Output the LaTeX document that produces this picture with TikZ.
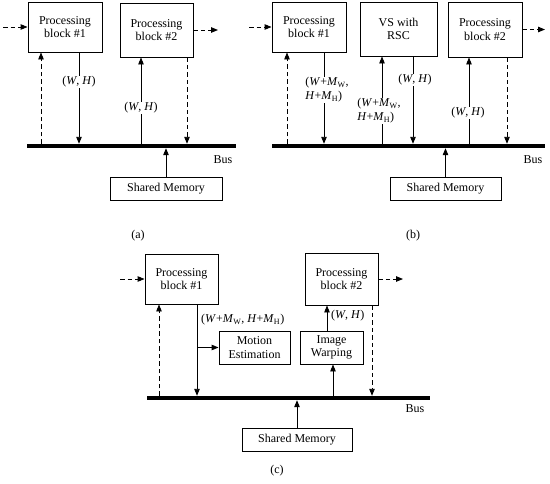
\documentclass[tikz,border=0pt]{standalone}
\usepackage{fontspec}
\setmainfont{Liberation Serif}
\usetikzlibrary{arrows.meta,calc}
\begin{document}
\begin{tikzpicture}[x=1pt,y=-1pt,
  box/.style={draw,line width=0.9pt,inner sep=1pt,align=center,font=\fontsize{12}{13.5}\selectfont},
  busbar/.style={fill=black,inner sep=0pt,minimum height=4pt},
  arr/.style={line width=0.9pt,-{Triangle[length=7pt,width=5.5pt]}},
  darr/.style={arr,dash pattern=on 4.5pt off 3pt},
  lbl/.style={fill=white,inner sep=1pt,font=\fontsize{12}{14}\selectfont},
  txt/.style={inner sep=0pt,font=\fontsize{12}{14}\selectfont}]
\useasboundingbox (0,0) rectangle (550,483);
\newcommand{\WH}{(\textit{W}, \textit{H})}
% ---------------- (a)
\node[box,minimum width=74pt,minimum height=50pt] (pa1) at (65,27) {Processing\\block \#1};
\node[box,minimum width=73pt,minimum height=54pt] (pa2) at (156.5,30) {Processing\\block \#2};
\node[box,minimum width=112pt,minimum height=23pt] (sma) at (166,188.5) {Shared Memory};
\node[busbar,minimum width=209pt] (busa) at (131.5,146) {};
\coordinate (ina) at (3,27);
\coordinate (outa) at (218,30);
\coordinate (xa1) at (41,0);
\coordinate (xa2) at (79,0);
\coordinate (xa3) at (141,0);
\coordinate (xa4) at (187,0);
\draw[darr] (ina) -- (pa1.west);
\draw[darr] (pa2.east) -- (outa);
\draw[darr] (xa1 |- busa.north) -- (xa1 |- pa1.south);
\draw[arr] (xa2 |- pa1.south) -- (xa2 |- busa.north);
\node[lbl] (la1) at (79,82) {\WH};
\draw[arr] (xa3 |- busa.north) -- (xa3 |- pa2.south);
\node[lbl] (la2) at (141,108) {\WH};
\draw[darr] (xa4 |- pa2.south) -- (xa4 |- busa.north);
\draw[arr] (sma.north) -- (sma.north |- busa.south);
\node[txt] (busla) at (223,160) {Bus};
\node[txt] (capa) at (138,236) {(a)};
% ---------------- (b)
\node[box,minimum width=74pt,minimum height=50pt] (pb1) at (309,27) {Processing\\block \#1};
\node[box,minimum width=77pt,minimum height=54pt] (vs) at (398.5,29) {VS with\\RSC};
\node[box,minimum width=74pt,minimum height=55pt] (pb2) at (485,29.5) {Processing\\block \#2};
\node[box,minimum width=111pt,minimum height=23pt] (smb) at (445.5,188.5) {Shared Memory};
\node[busbar,minimum width=273pt] (busb) at (408.5,146) {};
\coordinate (inb) at (249,27);
\coordinate (outb) at (545,29.5);
\coordinate (xb1) at (287,0);
\coordinate (xb2) at (324,0);
\coordinate (xb3) at (382,0);
\coordinate (xb4) at (413,0);
\coordinate (xb5) at (469,0);
\coordinate (xb6) at (507,0);
\draw[darr] (inb) -- (pb1.west);
\draw[darr] (pb2.east) -- (outb);
\draw[darr] (xb1 |- busb.north) -- (xb1 |- pb1.south);
\draw[arr] (xb2 |- pb1.south) -- (xb2 |- busb.north);
\node[lbl,align=left] (lb1) at (327,90) {(\textit{W}+\textit{M}\textsubscript{W},\\\textit{H}+\textit{M}\textsubscript{H})};
\draw[arr] (xb3 |- busb.north) -- (xb3 |- vs.south);
\node[lbl,align=left] (lb2) at (379,111) {(\textit{W}+\textit{M}\textsubscript{W},\\\textit{H}+\textit{M}\textsubscript{H})};
\draw[arr] (xb4 |- vs.south) -- (xb4 |- busb.north);
\node[lbl] (lb3) at (415,80) {\WH};
\draw[arr] (xb5 |- busb.north) -- (xb5 |- pb2.south);
\node[lbl] (lb4) at (468,113) {\WH};
\draw[darr] (xb6 |- pb2.south) -- (xb6 |- busb.north);
\draw[arr] (smb.north) -- (smb.north |- busb.south);
\node[txt] (buslb) at (533,160) {Bus};
\node[txt] (capb) at (413,236) {(b)};
% ---------------- (c)
\node[box,minimum width=73pt,minimum height=50pt] (pc1) at (181.5,279) {Processing\\block \#1};
\node[box,minimum width=73pt,minimum height=52pt] (pc2) at (341.5,279) {Processing\\block \#2};
\node[box,minimum width=71pt,minimum height=33pt] (me) at (254.5,347.5) {Motion\\Estimation};
\node[box,minimum width=63pt,minimum height=33pt] (iw) at (331.5,347.5) {Image\\Warping};
\node[box,minimum width=110pt,minimum height=23pt] (smc) at (297,439.5) {Shared Memory};
\node[busbar,minimum width=283pt] (busc) at (288.5,398) {};
\coordinate (inc) at (120,279);
\coordinate (outc) at (403,279);
\coordinate (xc1) at (159,0);
\coordinate (xc2) at (197,0);
\coordinate (xc3) at (327,0);
\coordinate (xc4) at (333,0);
\coordinate (xc5) at (372,0);
\coordinate (br) at (197,347.5);
\draw[darr] (inc) -- (pc1.west);
\draw[darr] (pc2.east) -- (outc);
\draw[darr] (xc1 |- busc.north) -- (xc1 |- pc1.south);
\draw[arr] (xc2 |- pc1.south) -- (xc2 |- busc.north);
\draw[arr] (br) -- (me.west);
\node[txt,anchor=west] (lc1) at (201,320) {(\textit{W}+\textit{M}\textsubscript{W}, \textit{H}+\textit{M}\textsubscript{H})};
\draw[arr] (xc3 |- iw.north) -- (xc3 |- pc2.south);
\node[txt,anchor=west] (lc2) at (331,316) {\WH};
\draw[arr] (xc4 |- busc.north) -- (xc4 |- iw.south);
\draw[darr] (xc5 |- pc2.south) -- (xc5 |- busc.north);
\draw[arr] (smc.north) -- (smc.north |- busc.south);
\node[txt] (buslc) at (415,409) {Bus};
\node[txt] (capc) at (277,471) {(c)};
\end{tikzpicture}
\end{document}
